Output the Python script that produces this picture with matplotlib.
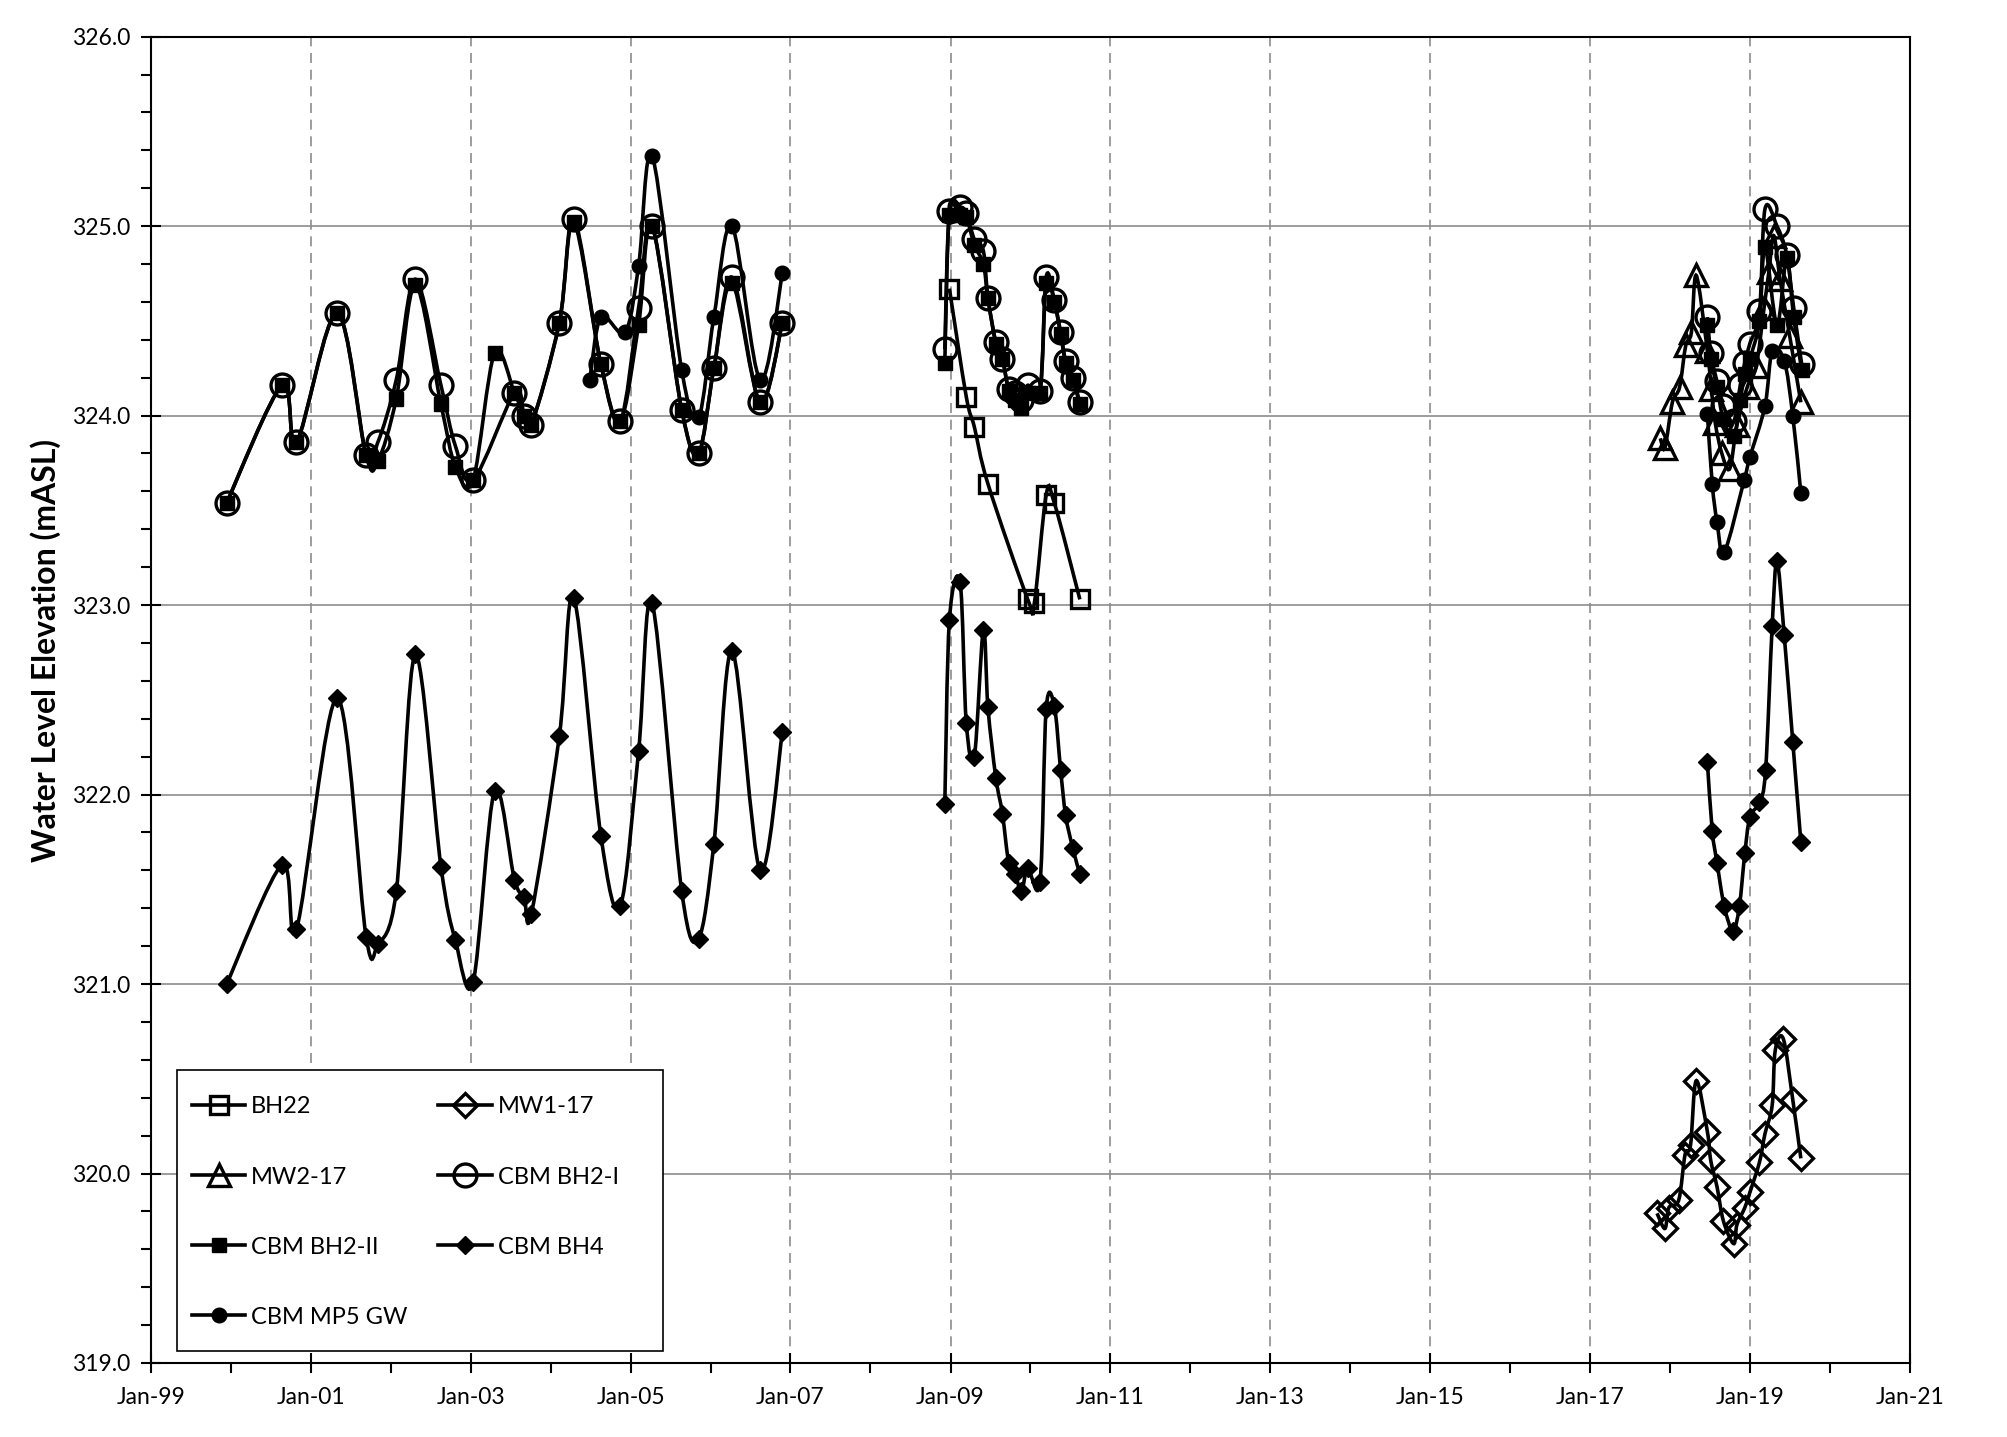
import numpy as np
import pandas as pd
import matplotlib
matplotlib.use("Agg")
import matplotlib.pyplot as plt
import matplotlib.dates as mdates
from matplotlib.path import Path
from matplotlib.patches import PathPatch, Rectangle
from matplotlib.lines import Line2D
from matplotlib.ticker import MultipleLocator, FormatStrFormatter, FixedLocator

# ---- 1999-2007 monitoring ----
dates_9907 = ["1999-12-13", "2000-08-22", "2000-10-27", "2001-05-01", "2001-09-10", "2001-11-03",
              "2002-01-26", "2002-04-23", "2002-08-18", "2002-10-23", "2003-01-12", "2003-04-20",
              "2003-07-20", "2003-09-02", "2003-10-05", "2004-02-10", "2004-04-16", "2004-08-18",
              "2004-11-14", "2005-02-06", "2005-04-09", "2005-08-22", "2005-11-07", "2006-01-16",
              "2006-04-09", "2006-08-15", "2006-11-25"]
bh2_i_9907 = [323.54, 324.16, 323.86, 324.54, 323.79, 323.86, 324.19, 324.72, 324.16, 323.84,
              323.66, np.nan, 324.12, 324.00, 323.95, 324.49, 325.04, 324.27, 323.97, 324.57,
              325.00, 324.03, 323.80, 324.25, 324.73, 324.07, 324.49]
bh2_ii_9907 = [323.54, 324.16, 323.86, 324.54, 323.79, 323.76, 324.09, 324.69, 324.06, 323.73,
               323.66, 324.33, 324.12, 324.00, 323.95, 324.49, 325.02, 324.27, 323.97, 324.48,
               325.00, 324.03, 323.80, 324.25, 324.70, 324.07, 324.49]
bh4_9907 = [321.00, 321.63, 321.29, 322.51, 321.25, 321.21, 321.49, 322.74, 321.62, 321.23,
            321.01, 322.02, 321.55, 321.46, 321.37, 322.31, 323.04, 321.78, 321.41, 322.23,
            323.01, 321.49, 321.24, 321.74, 322.76, 321.60, 322.33]
dates_mp5_0406 = ["2004-06-28", "2004-08-18", "2004-12-06", "2005-02-06", "2005-04-09", "2005-08-22",
                  "2005-11-07", "2006-01-16", "2006-04-09", "2006-08-15", "2006-11-25"]
mp5_0406 = [324.19, 324.52, 324.44, 324.79, 325.37, 324.24, 323.99, 324.52, 325.00, 324.19, 324.75]

# ---- 2008-2010 monitoring ----
dates_0810 = ["2008-12-06", "2008-12-27", "2009-02-14", "2009-03-14", "2009-04-20", "2009-05-31",
              "2009-06-21", "2009-07-27", "2009-08-26", "2009-09-24", "2009-10-23", "2009-11-21",
              "2009-12-20", "2010-02-14", "2010-03-14", "2010-04-20", "2010-05-19", "2010-06-11",
              "2010-07-13", "2010-08-15"]
bh2_i_0810 = [324.35, 325.08, 325.10, 325.07, 324.93, 324.87, 324.62, 324.39, 324.30, 324.14,
              324.12, 324.08, 324.16, 324.13, 324.73, 324.61, 324.44, 324.29, 324.20, 324.07]
bh2_ii_0810 = [324.28, 325.06, 325.06, 325.05, 324.90, 324.80, 324.62, 324.38, 324.30, 324.13,
               324.08, 324.04, 324.12, 324.12, 324.70, 324.60, 324.43, 324.28, 324.19, 324.06]
bh4_0810 = [321.95, 322.92, 323.12, 322.38, 322.20, 322.87, 322.46, 322.09, 321.90, 321.64,
            321.58, 321.49, 321.61, 321.54, 322.45, 322.47, 322.13, 321.89, 321.72, 321.58]
dates_bh22 = ["2008-12-27", "2009-03-14", "2009-04-20", "2009-06-21", "2009-12-20", "2010-01-19",
              "2010-03-14", "2010-04-20", "2010-08-15"]
bh22 = [324.67, 324.10, 323.94, 323.64, 323.03, 323.01, 323.58, 323.54, 323.03]

# ---- 2017-2019 monitoring ----
dates_mw1 = ["2017-11-03", "2017-12-09", "2017-12-27", "2018-02-10", "2018-03-11", "2018-04-05",
             "2018-05-01", "2018-06-21", "2018-07-06", "2018-08-04", "2018-09-02", "2018-10-19",
             "2018-11-03", "2018-12-09", "2019-01-01", "2019-02-14", "2019-03-11", "2019-04-13",
             "2019-04-27", "2019-06-03", "2019-07-16", "2019-08-22"]
mw1_17 = [319.79, 319.71, 319.82, 319.86, 320.10, 320.15, 320.49, 320.22, 320.07, 319.93, 319.75,
          319.63, 319.73, 319.82, 319.90, 320.06, 320.21, 320.36, 320.65, 320.71, 320.39, 320.08]
dates_mw2 = ["2017-11-18", "2017-12-09", "2018-01-12", "2018-02-14", "2018-03-14", "2018-04-09",
             "2018-05-01", "2018-06-21", "2018-07-09", "2018-07-27", "2018-08-26", "2018-10-01",
             "2018-11-03", "2018-12-20", "2019-01-30", "2019-03-07", "2019-03-29", "2019-04-20",
             "2019-05-19", "2019-07-02", "2019-08-22"]
mw2_17 = [323.88, 323.83, 324.07, 324.15, 324.37, 324.44, 324.74, 324.34, 324.14, 323.96, 323.80,
          323.72, 323.95, 324.15, 324.26, 324.57, 324.76, 324.95, 324.72, 324.42, 324.07]
dates_bh2_1819 = ["2018-06-21", "2018-07-06", "2018-08-04", "2018-09-02", "2018-10-19", "2018-11-18",
                  "2018-12-09", "2019-01-01", "2019-02-14", "2019-03-11", "2019-05-05", "2019-06-18",
                  "2019-07-20", "2019-08-26"]
bh2_i_1819 = [324.52, 324.33, 324.18, 324.05, 323.97, 324.16, 324.28, 324.38, 324.55, 325.09,
              325.00, 324.85, 324.57, 324.27]
bh2_ii_1819 = [324.48, 324.30, 324.15, 323.98, 323.89, 324.08, 324.22, 324.30, 324.50, 324.89,
               324.48, 324.83, 324.52, 324.24]
dates_bh4_1819 = ["2018-06-21", "2018-07-13", "2018-08-04", "2018-09-06", "2018-10-16", "2018-11-14",
                  "2018-12-09", "2019-01-01", "2019-02-14", "2019-03-14", "2019-04-13", "2019-05-05",
                  "2019-06-07", "2019-07-16", "2019-08-22"]
bh4_1819 = [322.17, 321.81, 321.64, 321.41, 321.28, 321.41, 321.69, 321.88, 321.96, 322.13,
            322.89, 323.23, 322.84, 322.28, 321.75]
dates_mp5_1819 = ["2018-06-21", "2018-07-13", "2018-08-04", "2018-09-06", "2018-12-06", "2019-01-01",
                  "2019-03-11", "2019-04-13", "2019-06-07", "2019-07-16", "2019-08-22"]
mp5_1819 = [324.01, 323.64, 323.44, 323.28, 323.66, 323.78, 324.05, 324.34, 324.29, 324.00, 323.59]

tick_years = list(range(1999, 2022, 2))

series = [
    ("BH22", [(dates_bh22, bh22)],
     dict(marker="s", ms=13.5, mfc="none", mew=2.4)),
    ("MW1-17", [(dates_mw1, mw1_17)],
     dict(marker="D", ms=12.5, mfc="none", mew=2.4)),
    ("MW2-17", [(dates_mw2, mw2_17)],
     dict(marker="^", ms=16.5, mfc="none", mew=2.4)),
    ("CBM BH2-I", [(dates_9907, bh2_i_9907), (dates_0810, bh2_i_0810), (dates_bh2_1819, bh2_i_1819)],
     dict(marker="o", ms=16.5, mfc="none", mew=2.4)),
    ("CBM BH2-II", [(dates_9907, bh2_ii_9907), (dates_0810, bh2_ii_0810), (dates_bh2_1819, bh2_ii_1819)],
     dict(marker="s", ms=9.5, mfc="black", mew=1)),
    ("CBM BH4", [(dates_9907, bh4_9907), (dates_0810, bh4_0810), (dates_bh4_1819, bh4_1819)],
     dict(marker="D", ms=9.5, mfc="black", mew=1)),
    ("CBM MP5 GW", [(dates_mp5_0406, mp5_0406), (dates_mp5_1819, mp5_1819)],
     dict(marker="o", ms=10.5, mfc="black", mew=1)),
]


def smooth_path(x, y):
    # Excel-like smoothed line: cubic Bezier through each point
    verts = [(x[0], y[0])]
    codes = [Path.MOVETO]
    n = len(x)
    for i in range(n - 1):
        xa, ya = (x[i - 1], y[i - 1]) if i > 0 else (x[i], y[i])
        xb, yb = (x[i + 2], y[i + 2]) if i + 2 < n else (x[i + 1], y[i + 1])
        c1 = (x[i] + (x[i + 1] - xa) / 6, y[i] + (y[i + 1] - ya) / 6)
        c2 = (x[i + 1] - (xb - x[i]) / 6, y[i + 1] - (yb - y[i]) / 6)
        verts += [c1, c2, (x[i + 1], y[i + 1])]
        codes += [Path.CURVE4] * 3
    return Path(verts, codes)


plt.rcParams["font.family"] = ["Lato", "DejaVu Sans"]

fig = plt.figure(figsize=(20.07, 14.37), dpi=100)
ax = fig.add_axes([0.0752, 0.0515, 0.8764, 0.923])

handles = {}
for name, parts, st in series:
    for dts, vals in parts:
        x = mdates.date2num(pd.to_datetime(dts))
        y = np.asarray(vals, dtype=float)
        ok = ~np.isnan(y)
        x, y = x[ok], y[ok]
        ax.add_patch(PathPatch(smooth_path(x, y), facecolor="none", edgecolor="black",
                               lw=2.6, zorder=3))
        ax.plot(x, y, ls="none", color="black", mec="black", zorder=4, **st)
    handles[name] = Line2D([], [], color="black", lw=2.6, mec="black", **st)

ax.set_xlim(mdates.date2num(pd.Timestamp("1999-01-01")), mdates.date2num(pd.Timestamp("2021-01-01")))
ax.set_ylim(319, 326)

major_x = mdates.date2num(pd.to_datetime([f"{y}-01-01" for y in tick_years]))
minor_x = mdates.date2num(pd.to_datetime([f"{y}-01-01" for y in range(1999, 2022)]))
ax.xaxis.set_major_locator(FixedLocator(major_x))
ax.xaxis.set_minor_locator(FixedLocator(minor_x))
ax.xaxis.set_major_formatter(mdates.DateFormatter("%b-%y"))
ax.yaxis.set_major_locator(MultipleLocator(1.0))
ax.yaxis.set_minor_locator(MultipleLocator(0.2))
ax.yaxis.set_major_formatter(FormatStrFormatter("%.1f"))

ax.tick_params(which="major", direction="inout", length=14, width=1.5, labelsize=16.5, pad=8)
ax.tick_params(which="minor", direction="out", length=7, width=1.5)
ax.tick_params(axis="x", which="major", pad=10)

ax.grid(axis="y", which="major", color="#8c8c8c", lw=1.2, ls="-", zorder=0)
ax.grid(axis="x", which="major", color="#8c8c8c", lw=1.2, ls=(0, (6, 4)), zorder=0)
ax.set_axisbelow(True)
for sp in ax.spines.values():
    sp.set_linewidth(1.5)
    sp.set_color("black")

ax.set_ylabel("Water Level Elevation (mASL)", fontsize=23, fontweight="bold")
ax.yaxis.set_label_coords(-0.051, 0.537)

# legend box: white frame with entries laid out row by row
ax.add_patch(Rectangle((0.0146, 0.0093), 0.2763, 0.2117, transform=ax.transAxes,
                       facecolor="white", edgecolor="black", lw=1.2, zorder=9))
order = ["BH22", "MW2-17", "CBM BH2-II", "CBM MP5 GW", "MW1-17", "CBM BH2-I", "CBM BH4"]
leg = ax.legend([handles[k] for k in order], order, ncol=2, loc="upper left",
                bbox_to_anchor=(0.0235, 0.201), borderaxespad=0, borderpad=0,
                fontsize=17, frameon=False, labelspacing=2.08, handlelength=2.25,
                handletextpad=0.25, columnspacing=1.3)
leg.set_zorder(10)

fig.savefig("out.png", dpi=100)
